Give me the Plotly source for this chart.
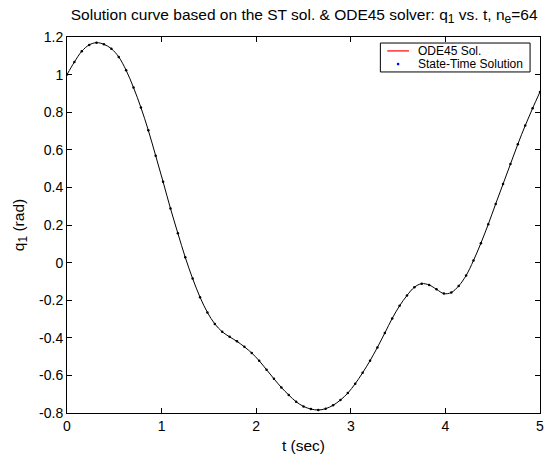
import plotly.graph_objects as go

t_end = 5.0
n_e = 64
t_vals = [k * t_end / n_e for k in range(n_e + 1)]
q1_vals = [1.000, 1.067, 1.124, 1.158, 1.170, 1.161, 1.138, 1.094, 1.023, 0.931,
           0.825, 0.704, 0.568, 0.430, 0.288, 0.156, 0.028, -0.085, -0.184, -0.265,
           -0.326, -0.368, -0.395, -0.419, -0.448, -0.481, -0.522, -0.570, -0.618, -0.664,
           -0.704, -0.740, -0.765, -0.779, -0.784, -0.777, -0.759, -0.731, -0.694, -0.644,
           -0.586, -0.522, -0.451, -0.375, -0.297, -0.230, -0.175, -0.131, -0.112, -0.119,
           -0.142, -0.165, -0.159, -0.124, -0.069, 0.011, 0.103, 0.204, 0.312, 0.418,
           0.524, 0.630, 0.729, 0.821, 0.908]
x_ticks = [0, 1, 2, 3, 4, 5]
y_ticks = [-0.8, -0.6, -0.4, -0.2, 0, 0.2, 0.4, 0.6, 0.8, 1, 1.2]
y_tick_text = ["-0.8", "-0.6", "-0.4", "-0.2", "0", "0.2", "0.4", "0.6", "0.8", "1", "1.2"]
legend_names = ["ODE45 Sol.", "State-Time Solution"]

FONT = "Liberation Sans, Arial, sans-serif"
FS = 14
FS_T = 15.5


def sub(s, size=12):
    return '<sub><span style="font-size:%spx">' % size + s + '</span></sub>'


fig = go.Figure()
fig.add_trace(go.Scatter(x=t_vals, y=q1_vals, mode="lines",
                         line=dict(color="black", width=1, shape="spline"),
                         name=legend_names[0], showlegend=False, hoverinfo="skip"))
fig.add_trace(go.Scatter(x=t_vals, y=q1_vals, mode="markers",
                         marker=dict(color="black", size=2.5),
                         name=legend_names[1], showlegend=False, hoverinfo="skip"))

axis_common = dict(showline=True, linecolor="black", linewidth=1, mirror="ticks", ticks="inside",
                   ticklen=5, tickcolor="black", showgrid=False, zeroline=False,
                   ticklabeloverflow="allow",
                   tickfont=dict(family=FONT, size=FS, color="black"))

# MATLAB-style legend box (paper coordinates)
lx0, lx1, ly0, ly1 = 0.6625, 0.979, 0.907, 0.984
row_y = [0.963, 0.928]
shapes = [
    dict(type="rect", xref="paper", yref="paper", x0=lx0, x1=lx1, y0=ly0, y1=ly1,
         line=dict(color="black", width=1), fillcolor="white", layer="above"),
    dict(type="line", xref="paper", yref="paper", x0=0.677, x1=0.723, y0=row_y[0], y1=row_y[0],
         line=dict(color="red", width=1.2), layer="above"),
    dict(type="circle", xref="paper", yref="paper", x0=0.700 - 0.0028, x1=0.700 + 0.0028,
         y0=row_y[1] - 0.0036, y1=row_y[1] + 0.0036,
         line=dict(color="blue", width=0), fillcolor="blue", layer="above"),
]
annotations = [
    dict(text=legend_names[i], xref="paper", yref="paper", x=0.738, y=row_y[i],
         xanchor="left", yanchor="middle", showarrow=False,
         font=dict(family=FONT, size=12, color="black"))
    for i in range(2)
]

fig.update_layout(
    width=548, height=459,
    margin=dict(l=67, r=4, t=37, b=46),
    paper_bgcolor="white", plot_bgcolor="white",
    font=dict(family=FONT, size=FS, color="black"),
    showlegend=False,
    title=dict(text="Solution curve based on the ST sol. &amp; ODE45 solver: q" + sub("1")
               + " vs. t, n" + sub("e") + "=64",
               x=0.555, xanchor="center", y=0.968, yanchor="middle",
               font=dict(family=FONT, size=FS_T, color="black")),
    xaxis=dict(range=[0, 5], tickvals=x_ticks,
               title=dict(text="t (sec)", standoff=7, font=dict(family=FONT, size=FS_T)),
               **axis_common),
    yaxis=dict(range=[-0.8, 1.2], tickvals=y_ticks, ticktext=y_tick_text,
               title=dict(text="q" + sub("1") + " (rad)", standoff=10, font=dict(family=FONT, size=FS_T)),
               **axis_common),
    shapes=shapes,
    annotations=annotations,
)

fig.write_html("out.html")
